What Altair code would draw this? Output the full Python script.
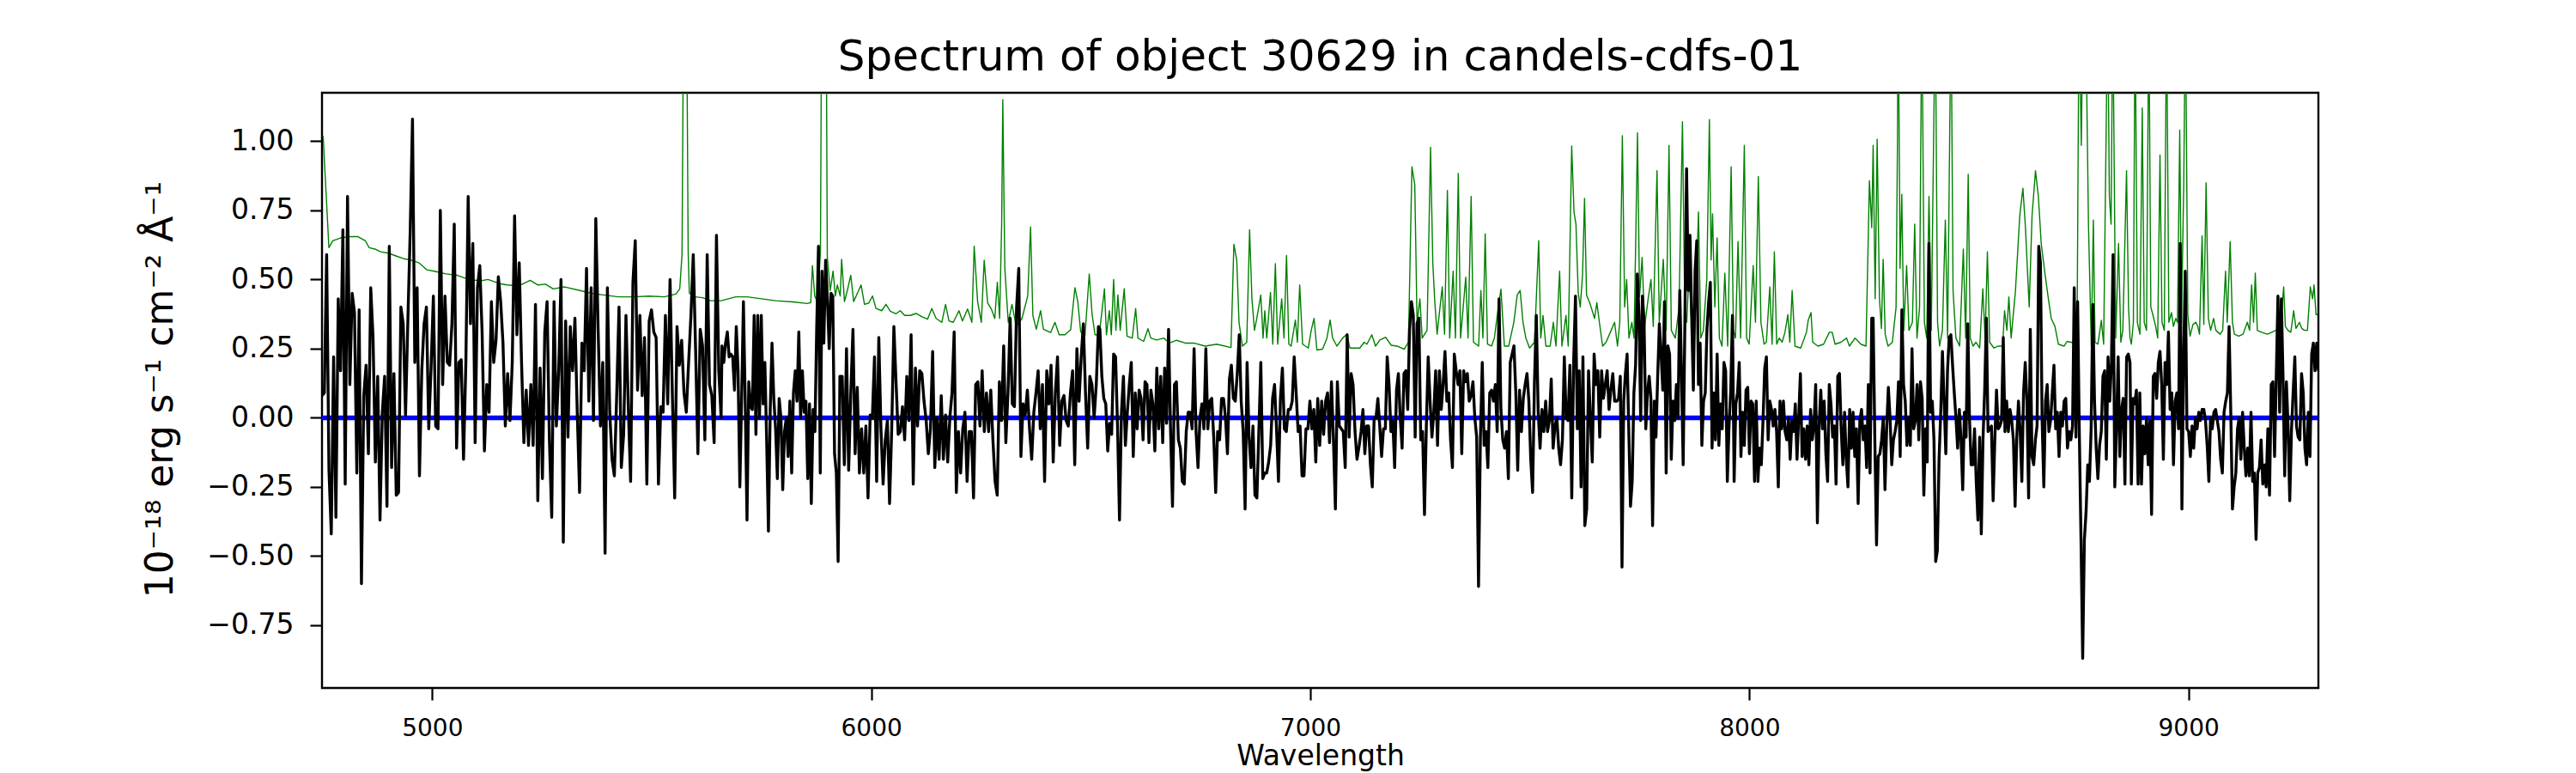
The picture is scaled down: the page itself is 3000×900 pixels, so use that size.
import altair as alt
import numpy as np
import pandas as pd

title_text = "Spectrum of object 30629 in candels-cdfs-01"
x_title = "Wavelength"
y_title = "10⁻¹⁸ erg s⁻¹ cm⁻² Å⁻¹"
x_ticks = [5000, 6000, 7000, 8000, 9000]
y_ticks = [-0.75, -0.5, -0.25, 0.0, 0.25, 0.5, 0.75, 1.0]
x_domain = [4749, 9296]
y_domain = [-0.977, 1.175]

# black flux: wavelength range of each read-off stretch and its values
seg_ranges = [(4749.0, 5658.0), (5660.0, 5928.6), (5933.8, 6517.4), (6520.7, 7106.3),
              (7111.4, 7693.1), (7698.3, 8278.7), (8281.9, 8866.9), (8870.0, 9296.0)]

flux_a = [0.08, 0.09, 0.59, -0.19, -0.42, 0.22, -0.36, 0.43, 0.17, 0.68,
          -0.24, 0.80, 0.12, 0.45, 0.38, -0.20, 0.39, -0.60, 0.08, 0.19,
          -0.13, 0.47, 0.29, -0.16, 0.15, -0.37, 0.02, 0.15, -0.32, 0.62,
          -0.18, 0.16, -0.28, -0.27, 0.40, 0.34, 0.01, 0.35, 0.67, 1.08,
          0.20, 0.47, -0.21, 0.17, 0.34, 0.40, -0.04, 0.18, 0.44, -0.03,
          -0.04, 0.75, 0.12, 0.44, 0.20, 0.19, 0.34, 0.70, -0.11, 0.20,
          0.21, -0.15, 0.20, 0.80, 0.34, 0.63, -0.09, 0.47, 0.55, 0.31,
          -0.12, 0.12, 0.02, 0.42, 0.20, 0.28, 0.51, 0.42, 0.27, -0.03,
          0.16, -0.01, 0.20, 0.73, 0.30, 0.56, 0.20, -0.09, 0.10, -0.10,
          0.12, -0.10, 0.41, -0.30, 0.18, -0.22, 0.31, 0.42, -0.08, -0.36,
          0.42, -0.03, 0.17, 0.50, -0.45, 0.35, -0.07, 0.33, 0.17, 0.36,
          0.02, -0.27, 0.27, 0.17, 0.54, 0.06, 0.47, -0.01, 0.72, 0.32,
          -0.03, 0.20, -0.49, 0.47, 0.02, -0.15, -0.21, 0.08, 0.40, -0.18,
          -0.06, 0.37, 0.04, -0.23, 0.49, 0.64, 0.10, 0.37, 0.08, 0.29,
          -0.24, 0.35, 0.39, 0.31, 0.29, -0.24, 0.04, 0.02, 0.37, 0.05,
          0.50, 0.08, -0.29, 0.33, 0.19, 0.28, 0.09, 0.02, 0.20, 0.37,
          0.59, 0.25, -0.13, 0.32, 0.26, -0.08, 0.59, 0.12, 0.08, -0.09,
          0.66, 0.17, 0.00]
flux_b = [0.26, 0.20, 0.27, 0.31, 0.22, 0.23, 0.22, 0.10, 0.33, 0.17,
          -0.25, 0.07, 0.42, 0.06, -0.37, 0.13, 0.04, 0.03, 0.37, -0.06,
          0.37, 0.00, 0.37, 0.05, 0.20, -0.08, -0.41, 0.03, 0.27, 0.07,
          -0.04, -0.22, 0.07, 0.00, -0.26, -0.05, 0.00, -0.14, 0.06, -0.20,
          0.09, 0.17, 0.06, 0.31, 0.00, 0.17, 0.02, 0.06, -0.22, 0.05,
          -0.31, 0.03, -0.05, 0.32, 0.62, -0.20, 0.53, 0.27, 0.57, 0.43,
          0.25, 0.45, 0.44, -0.13, -0.20, -0.52, 0.15]
flux_c = [0.15, -0.17, 0.25, -0.19, 0.09, 0.32, -0.13, 0.11, -0.20, -0.04,
          -0.20, -0.03, -0.29, 0.01, 0.00, 0.22, -0.23, 0.29, -0.04, -0.24,
          -0.08, -0.01, -0.31, -0.04, 0.33, 0.13, -0.06, -0.05, 0.04, -0.08,
          0.15, -0.01, 0.30, -0.24, 0.18, -0.03, 0.17, 0.16, 0.06, -0.01,
          -0.13, -0.04, 0.24, -0.18, 0.00, -0.15, 0.08, -0.15, 0.01, -0.16,
          0.00, 0.09, 0.31, -0.27, -0.05, -0.20, -0.04, 0.02, -0.23, -0.05,
          -0.05, -0.29, 0.12, 0.13, -0.03, 0.17, -0.05, 0.09, -0.05, 0.10,
          -0.08, -0.23, -0.28, 0.13, -0.01, 0.26, -0.09, 0.09, 0.36, 0.05,
          0.04, 0.40, 0.54, -0.14, 0.05, 0.01, 0.10, -0.04, -0.15, 0.02,
          0.09, 0.17, -0.04, 0.12, -0.23, 0.17, 0.05, 0.19, -0.16, 0.09,
          0.22, -0.10, 0.06, 0.08, -0.01, -0.03, 0.09, 0.17, -0.17, 0.25,
          0.06, 0.22, 0.34, 0.09, -0.11, 0.15, 0.12, 0.00, 0.12, 0.33]
flux_d = [0.32, 0.15, 0.07, 0.05, -0.12, -0.02, -0.06, 0.23, 0.22, -0.03,
          -0.37, 0.02, 0.15, -0.10, 0.02, 0.12, 0.20, -0.14, 0.09, -0.04,
          0.10, 0.07, -0.08, 0.13, 0.12, -0.09, 0.10, 0.05, -0.12, 0.18,
          -0.04, 0.15, -0.09, 0.18, -0.02, 0.32, -0.04, -0.32, 0.12, 0.13,
          -0.08, -0.11, -0.23, -0.24, -0.05, 0.02, 0.02, -0.04, 0.25, -0.05,
          -0.18, 0.00, 0.05, -0.04, 0.25, -0.04, 0.06, 0.07, -0.07, -0.27,
          -0.05, -0.08, 0.07, 0.07, 0.00, -0.13, 0.14, 0.19, 0.07, 0.06,
          0.16, 0.30, 0.06, -0.05, -0.33, 0.20, -0.07, -0.18, -0.03, -0.28,
          -0.29, -0.05, 0.20, -0.22, -0.20, -0.20, -0.16, -0.10, 0.07, 0.12,
          -0.04, -0.23, 0.07, 0.18, -0.04, -0.05, 0.03, 0.03, 0.06, 0.22,
          0.09, -0.05, -0.03, -0.21, -0.21, -0.04, -0.04, 0.06, -0.04, 0.03,
          -0.16, 0.07, -0.10, 0.06, -0.06, 0.06, 0.09, -0.09, 0.13, -0.08,
          -0.33, 0.13, -0.03, -0.04, -0.05, -0.18, 0.30, -0.07, 0.16, 0.12,
          -0.05, -0.15]
flux_e = [-0.10, -0.05, 0.03, -0.13, -0.03, -0.03, -0.17, -0.25, 0.00, 0.00,
          0.07, -0.03, -0.14, -0.04, -0.04, 0.22, 0.12, -0.05, -0.01, -0.18,
          0.10, 0.16, 0.00, -0.11, 0.16, 0.17, 0.03, 0.32, 0.42, 0.37,
          -0.07, 0.34, 0.36, -0.08, -0.05, -0.35, -0.03, 0.22, 0.06, -0.07,
          0.02, 0.17, -0.10, 0.17, 0.03, 0.12, 0.24, 0.06, 0.09, -0.08,
          -0.18, 0.23, 0.17, 0.12, 0.17, -0.13, 0.17, 0.13, 0.16, 0.06,
          0.08, 0.13, 0.00, -0.07, -0.61, -0.07, 0.20, -0.10, -0.05, -0.18,
          0.09, 0.10, 0.06, 0.12, -0.05, 0.43, 0.03, -0.08, -0.11, -0.05,
          -0.22, 0.20, 0.23, 0.26, 0.09, -0.19, 0.10, -0.05, 0.07, 0.12,
          0.16, 0.06, -0.15, -0.27, 0.13, 0.37, 0.02, -0.11, 0.03, -0.05,
          0.06, -0.05, -0.01, 0.14, -0.11, -0.03, 0.00, -0.11, -0.17, -0.08,
          0.22, 0.00, -0.01, 0.19, -0.29, 0.20, 0.44, -0.04, 0.17, -0.25,
          0.22, -0.39, -0.33, 0.17, 0.00, -0.16, 0.23, 0.12, 0.17, -0.07,
          0.17, 0.07, 0.12, 0.17, 0.03, 0.10, 0.16, 0.06]
flux_f = [0.06, 0.07, 0.15, -0.54, 0.06, 0.16, 0.23, -0.05, -0.32, -0.23,
          0.09, 0.19, 0.52, 0.37, -0.01, 0.44, 0.34, -0.04, 0.09, 0.15,
          0.07, -0.39, 0.06, -0.07, 0.15, 0.34, 0.23, 0.10, 0.42, -0.20,
          0.26, 0.23, -0.15, 0.06, -0.01, 0.12, 0.00, 0.46, 0.17, -0.17,
          0.34, 0.90, 0.46, 0.66, 0.37, 0.10, 0.53, 0.64, 0.12, 0.27,
          -0.10, 0.06, 0.09, 0.32, 0.42, 0.49, -0.11, 0.09, -0.08, 0.23,
          -0.10, 0.05, -0.04, 0.20, 0.17, -0.23, -0.03, 0.10, 0.37, -0.23,
          0.05, 0.09, 0.20, -0.14, 0.02, -0.10, 0.10, 0.11, -0.13, 0.06,
          0.05, -0.23, 0.06, -0.23, -0.11, -0.17, -0.01, 0.18, 0.22, -0.08,
          0.06, 0.03, -0.03, 0.03, -0.05, -0.25, 0.06, -0.04, 0.06, -0.05,
          -0.08, 0.00, -0.15, -0.01, -0.05, 0.05, -0.15, 0.00, 0.16, -0.14,
          -0.04, -0.15, -0.03, -0.17, 0.03, -0.08, -0.03, 0.12, -0.38, -0.03,
          0.10, -0.04, 0.06, -0.13, -0.23, 0.12, 0.05, -0.07, -0.03, -0.24,
          0.15, 0.16, -0.04, -0.17, 0.02, -0.15, -0.25, 0.03, -0.11, 0.02,
          -0.14, -0.04, -0.31, -0.01, 0.03, -0.08, -0.03, -0.18, 0.12, -0.20,
          0.36]
flux_g = [0.36, -0.08, -0.46, -0.14, -0.13, -0.08, 0.00, -0.26, -0.04, 0.11,
          0.00, -0.17, -0.08, -0.05, -0.01, 0.13, -0.14, 0.39, 0.12, 0.06,
          -0.10, 0.00, -0.10, 0.25, -0.04, -0.01, 0.12, -0.08, 0.13, 0.07,
          -0.28, -0.04, -0.16, 0.63, 0.02, 0.06, -0.08, -0.52, -0.48, -0.15,
          0.02, 0.24, 0.06, -0.13, 0.17, 0.29, 0.30, 0.19, 0.09, 0.00,
          -0.11, 0.03, -0.08, -0.26, 0.02, -0.07, 0.34, 0.00, -0.17, -0.17,
          -0.04, -0.23, -0.37, -0.07, -0.42, -0.08, 0.10, 0.36, -0.05, -0.04,
          -0.03, -0.30, -0.08, 0.10, -0.04, -0.03, -0.01, 0.29, -0.05, 0.06,
          -0.05, 0.03, -0.01, -0.08, -0.32, -0.07, 0.06, -0.05, -0.23, 0.09,
          0.20, 0.06, -0.29, 0.32, -0.14, -0.17, -0.08, -0.03, 0.62, 0.56,
          -0.01, -0.25, 0.06, 0.12, -0.05, -0.01, 0.09, 0.19, -0.04, 0.02,
          -0.14, 0.02, -0.03, 0.06, 0.07, -0.11, -0.05, -0.08, -0.03, 0.47,
          -0.07, 0.42, -0.05, -0.44, -0.87, -0.44, -0.34, -0.17, -0.23, -0.04,
          0.41, 0.06, -0.11, -0.22, -0.10, -0.05, 0.15, 0.17, -0.15, 0.22,
          0.06, 0.19, 0.59, -0.25, -0.04, 0.22, -0.14, 0.03, 0.07, -0.24,
          0.22, 0.23, 0.20]
flux_h = [-0.24, 0.07, 0.05, 0.10, -0.24, 0.09, -0.24, -0.03, -0.13, 0.00,
          -0.17, -0.01, -0.35, 0.15, 0.16, 0.07, 0.20, 0.24, 0.12, -0.15,
          0.20, 0.12, 0.31, 0.03, 0.09, -0.17, 0.06, 0.09, -0.04, 0.63,
          -0.33, 0.20, 0.53, -0.04, -0.05, -0.14, -0.03, -0.11, 0.00, -0.04,
          0.02, -0.01, 0.03, 0.03, -0.01, -0.10, -0.23, 0.00, -0.04, 0.02,
          0.03, -0.01, -0.05, -0.15, -0.20, 0.02, 0.06, 0.09, 0.33, 0.02,
          -0.33, -0.25, -0.20, -0.04, 0.00, -0.15, 0.02, -0.11, -0.21, -0.11,
          -0.21, 0.02, -0.23, -0.20, -0.44, -0.20, -0.18, -0.08, -0.24, -0.17,
          -0.25, -0.04, -0.28, 0.12, 0.13, -0.14, 0.15, 0.44, 0.02, 0.43,
          0.15, -0.21, 0.13, -0.03, -0.30, -0.05, 0.09, 0.22, -0.03, -0.07,
          -0.08, 0.16, 0.09, -0.11, -0.17, 0.02, -0.14, 0.23, 0.27, 0.17,
          0.27, 0.17]
flux_segments = [flux_a, flux_b, flux_c, flux_d, flux_e, flux_f, flux_g, flux_h]

# green error / sky spectrum
green_wave = [
    4751.6, 4764.7, 4773.5, 4790.9, 4812.8, 4830.2, 4847.7, 4856.4, 4869.5, 4882.6,
    4900.1, 4917.5, 4935.0, 4952.5, 4969.9, 4987.4, 5004.9, 5031.1, 5057.3, 5083.5,
    5109.7, 5127.1, 5153.3, 5170.8, 5197.0, 5223.2, 5240.7, 5258.1, 5275.6, 5301.8,
    5336.7, 5362.9, 5389.1, 5424.1, 5459.0, 5493.9, 5528.8, 5555.0, 5563.8, 5569.0,
    5572.5, 5579.5, 5583.0, 5585.6, 5598.7, 5616.2, 5633.7, 5658.1,
    5691.3, 5717.4, 5750.0, 5782.6, 5821.7, 5854.3, 5862.1, 5866.0, 5871.2, 5877.1,
    5884.3, 5886.9, 5897.3, 5899.9, 5906.5, 5913.0, 5918.2, 5922.8, 5929.3,
    5932.5, 5939.0, 5945.5, 5953.3, 5959.9, 5968.3, 5976.8, 5984.6, 5994.4, 6002.9,
    6010.7, 6023.8, 6033.5, 6043.3, 6056.4, 6066.1, 6075.9, 6089.0, 6102.0, 6115.1,
    6128.1, 6137.9, 6147.7, 6160.7, 6169.2, 6177.0, 6186.8, 6199.8, 6207.7, 6219.4,
    6229.2, 6234.4, 6242.2, 6250.7, 6257.2, 6265.0, 6273.5, 6281.3, 6287.2, 6292.4,
    6297.0, 6299.6, 6304.2, 6312.0, 6320.5, 6330.2, 6343.3, 6356.3, 6362.8, 6368.1,
    6375.9, 6385.7, 6392.2, 6408.5, 6418.3, 6428.1, 6441.1, 6454.2, 6463.9, 6470.4,
    6477.0, 6486.7, 6496.5, 6503.0, 6509.6, 6519.3,
    6531.1, 6535.7, 6542.2, 6546.8, 6552.0, 6557.2, 6561.7, 6567.0, 6576.1, 6582.6,
    6594.4, 6602.2, 6607.4, 6620.4, 6630.2, 6636.7, 6649.8, 6666.1, 6679.1, 6695.4,
    6715.0, 6734.6, 6760.6, 6786.7, 6819.3, 6825.9, 6832.4, 6837.6, 6845.4, 6855.2,
    6861.7, 6867.0, 6872.8, 6878.0, 6887.2, 6892.4, 6896.3, 6900.8, 6909.3, 6914.5,
    6920.4, 6925.6, 6934.8, 6940.0, 6945.8, 6951.1, 6956.3, 6966.0, 6970.6, 6975.8,
    6982.4, 6995.4, 7002.0, 7008.5, 7015.0, 7028.0, 7037.8, 7045.0, 7050.8, 7060.6,
    7073.6, 7083.4, 7090.0, 7106.2,
    7112.7, 7122.5, 7129.0, 7140.1, 7148.5, 7158.3, 7171.4, 7184.4, 7197.5, 7213.8,
    7223.5, 7231.4, 7237.9, 7243.1, 7249.6, 7254.8, 7265.9, 7273.8, 7279.0, 7283.5,
    7288.8, 7294.0, 7300.5, 7305.7, 7312.2, 7317.4, 7325.3, 7330.5, 7337.0, 7342.2,
    7354.0, 7359.2, 7366.3, 7371.6, 7383.3, 7388.5, 7393.1, 7398.3, 7403.5, 7412.7,
    7419.2, 7425.7, 7434.2, 7442.0, 7451.8, 7463.5, 7471.3, 7477.9, 7484.4, 7490.9,
    7499.4, 7510.5, 7520.2, 7524.8, 7530.0, 7536.5, 7546.3, 7553.5, 7559.4, 7567.8,
    7573.1, 7582.2, 7587.4, 7595.3, 7600.5, 7605.0, 7610.2, 7614.8, 7620.0, 7624.6,
    7629.1, 7637.6, 7647.4, 7652.6, 7657.8, 7665.7, 7673.5, 7683.3, 7693.0,
    7699.6, 7704.8, 7710.7, 7715.9, 7720.5, 7725.7, 7732.2, 7737.4, 7745.2, 7749.8,
    7755.7, 7761.5, 7769.4, 7775.9, 7781.1, 7789.6, 7794.8, 7803.9, 7810.4, 7817.0,
    7822.2, 7831.3, 7839.8, 7847.6, 7852.8, 7857.4, 7862.6, 7869.1, 7875.0, 7884.1,
    7889.3, 7895.2, 7903.0, 7908.9, 7912.8, 7916.1, 7921.3, 7926.5, 7931.7, 7937.6,
    7944.1, 7950.6, 7958.5, 7963.7, 7968.3, 7974.1, 7980.0, 7988.5, 7993.7, 7999.6,
    8008.7, 8013.9, 8020.4, 8026.3, 8033.5, 8038.7, 8046.5, 8051.7, 8056.9, 8062.2,
    8068.0, 8074.5, 8081.1, 8087.6, 8092.1, 8097.4, 8103.9, 8116.9, 8130.0, 8133.9,
    8140.4, 8144.3, 8156.1, 8169.1, 8182.1, 8188.7, 8195.2, 8208.2, 8221.3, 8227.8,
    8240.8, 8253.9, 8265.6, 8273.4, 8278.7,
    8281.9, 8286.5, 8291.0, 8296.3, 8300.8, 8304.7, 8309.3, 8315.8, 8325.6, 8334.1,
    8337.3, 8338.6, 8341.3, 8343.2, 8347.1, 8351.7, 8358.2, 8363.4, 8371.3, 8376.5,
    8381.7, 8387.6, 8392.8, 8398.6, 8403.9, 8409.1, 8414.3, 8423.4, 8428.6, 8433.2,
    8439.7, 8446.3, 8451.5, 8459.3, 8463.9, 8470.4, 8478.9, 8487.3, 8492.6, 8498.4,
    8503.0, 8509.5, 8516.0, 8524.5, 8531.7, 8536.9, 8542.1, 8547.3, 8557.1, 8566.9,
    8576.7, 8581.2, 8586.5, 8591.0, 8596.2, 8606.0, 8615.8, 8623.0, 8628.8, 8637.3,
    8643.8, 8651.7, 8658.2, 8664.7, 8672.5, 8681.0, 8687.5, 8696.0, 8703.8, 8716.9,
    8723.4, 8733.2, 8746.2, 8750.8, 8756.0, 8759.9, 8765.8, 8772.3, 8778.8, 8783.4,
    8787.3, 8793.8, 8801.6, 8806.9, 8816.0, 8819.9, 8823.8, 8827.7, 8834.3, 8840.8,
    8846.0, 8850.6, 8859.0, 8863.6, 8866.9,
    8870.0, 8874.6, 8878.5, 8883.7, 8889.5, 8894.8, 8899.3, 8904.5, 8909.8, 8914.3,
    8918.9, 8925.4, 8930.0, 8935.2, 8939.8, 8945.0, 8950.2, 8955.4, 8961.3, 8965.8,
    8971.1, 8975.0, 8980.2, 8984.1, 8989.3, 8993.2, 8998.5, 9003.7, 9010.2, 9016.7,
    9021.3, 9025.2, 9031.1, 9035.0, 9040.2, 9045.4, 9050.6, 9057.2, 9062.4, 9072.1,
    9078.0, 9084.5, 9088.4, 9095.0, 9100.2, 9104.7, 9114.5, 9124.3, 9134.1, 9139.3,
    9143.9, 9148.4, 9152.3, 9156.9, 9166.7, 9179.7, 9189.5, 9199.3, 9209.1, 9216.9,
    9220.8, 9226.7, 9233.2, 9239.7, 9244.9, 9252.8, 9258.0, 9264.5, 9271.0, 9277.6,
    9282.8, 9286.0, 9290.6, 9294.5]
green_flux = [
    1.02, 0.615, 0.64, 0.65, 0.655, 0.655, 0.64, 0.615, 0.61, 0.60,
    0.595, 0.585, 0.575, 0.57, 0.56, 0.535, 0.53, 0.52, 0.515, 0.50,
    0.495, 0.50, 0.485, 0.48, 0.477, 0.497, 0.48, 0.483, 0.466, 0.473,
    0.46, 0.45, 0.444, 0.437, 0.437, 0.44, 0.437, 0.447, 0.466, 0.59,
    1.5, 1.5, 0.6, 0.45, 0.437, 0.434, 0.423, 0.423,
    0.437, 0.437, 0.43, 0.423, 0.419, 0.413, 0.416, 0.55, 0.44, 0.42,
    0.60, 1.5, 1.5, 0.58, 0.46, 0.53, 0.44, 0.48, 0.44,
    0.573, 0.42, 0.46, 0.515, 0.42, 0.45, 0.48, 0.41, 0.415, 0.44,
    0.395, 0.387, 0.41, 0.385, 0.376, 0.387, 0.37, 0.37, 0.377, 0.366,
    0.356, 0.395, 0.359, 0.345, 0.41, 0.35, 0.345, 0.387, 0.35, 0.393,
    0.345, 0.62, 0.42, 0.345, 0.57, 0.415, 0.393, 0.359, 0.49, 0.359,
    0.70, 1.15, 0.54, 0.345, 0.41, 0.33, 0.359, 0.44, 0.69, 0.37,
    0.32, 0.387, 0.32, 0.308, 0.345, 0.30, 0.30, 0.319, 0.47, 0.42,
    0.31, 0.296, 0.52, 0.373, 0.30, 0.30,
    0.466, 0.30, 0.387, 0.30, 0.50, 0.316, 0.444, 0.316, 0.466, 0.295,
    0.288, 0.395, 0.288, 0.276, 0.322, 0.288, 0.281, 0.288, 0.27, 0.28,
    0.27, 0.27, 0.259, 0.266, 0.254, 0.627, 0.57, 0.345, 0.259, 0.273,
    0.68, 0.43, 0.316, 0.359, 0.444, 0.288, 0.387, 0.288, 0.453, 0.266,
    0.557, 0.266, 0.43, 0.288, 0.587, 0.266, 0.259, 0.353, 0.273, 0.48,
    0.266, 0.252, 0.316, 0.359, 0.245, 0.248, 0.288, 0.353, 0.288, 0.259,
    0.288, 0.302, 0.252, 0.252,
    0.252, 0.273, 0.266, 0.30, 0.259, 0.281, 0.291, 0.262, 0.259, 0.248,
    0.273, 0.907, 0.843, 0.345, 0.43, 0.288, 0.316, 0.978, 0.558, 0.42,
    0.302, 0.38, 0.473, 0.302, 0.822, 0.288, 0.53, 0.288, 0.883, 0.288,
    0.508, 0.288, 0.80, 0.273, 0.259, 0.46, 0.288, 0.665, 0.266, 0.259,
    0.288, 0.37, 0.465, 0.259, 0.259, 0.345, 0.444, 0.46, 0.345, 0.288,
    0.252, 0.273, 0.64, 0.288, 0.37, 0.259, 0.259, 0.345, 0.259, 0.53,
    0.259, 0.37, 0.259, 0.983, 0.744, 0.70, 0.451, 0.40, 0.516, 0.793,
    0.444, 0.41, 0.359, 0.416, 0.352, 0.259, 0.273, 0.309, 0.345,
    0.259, 0.345, 1.02, 0.40, 0.50, 0.288, 0.345, 0.288, 1.03, 0.437,
    0.58, 0.33, 0.43, 0.50, 0.33, 0.893, 0.345, 0.573, 0.316, 0.985,
    0.316, 0.288, 0.40, 1.07, 0.40, 0.345, 0.53, 0.316, 0.288, 0.744,
    0.288, 0.316, 0.50, 1.078, 0.57, 0.737, 0.40, 0.65, 0.288, 0.259,
    0.523, 0.259, 0.907, 0.316, 0.288, 0.637, 0.288, 0.985, 0.288, 0.266,
    0.55, 0.345, 0.872, 0.345, 0.266, 0.273, 0.473, 0.266, 0.60, 0.266,
    0.288, 0.273, 0.309, 0.373, 0.273, 0.46, 0.259, 0.252, 0.309, 0.352,
    0.38, 0.273, 0.259, 0.266, 0.309, 0.309, 0.266, 0.273, 0.288, 0.259,
    0.288, 0.266, 0.259, 0.857, 0.687,
    0.985, 0.43, 1.007, 0.43, 0.323, 0.573, 0.302, 0.259, 0.273, 0.40,
    1.0, 1.5, 1.0, 0.54, 0.808, 0.316, 0.55, 0.316, 0.345, 0.70,
    0.288, 0.40, 1.5, 0.345, 0.288, 0.80, 0.316, 1.5, 0.345, 0.259,
    0.316, 0.715, 0.288, 1.5, 0.459, 0.288, 0.259, 0.61, 0.288, 0.88,
    0.288, 0.259, 0.273, 0.252, 0.466, 0.288, 0.60, 0.273, 0.252, 0.259,
    0.259, 0.387, 0.316, 0.437, 0.288, 0.459, 0.73, 0.83, 0.687, 0.40,
    0.73, 0.893, 0.80, 0.63, 0.53, 0.43, 0.359, 0.33, 0.266, 0.259,
    0.276, 0.273, 0.259, 1.5, 0.985, 1.5, 1.5, 0.70, 0.259, 0.715,
    0.273, 0.266, 0.352, 0.266, 1.5, 0.80, 0.70, 1.5, 0.288, 0.63,
    0.273, 0.316, 0.893, 0.40, 0.288,
    0.266, 0.345, 1.5, 0.345, 0.302, 1.12, 0.345, 0.316, 1.5, 0.40,
    0.373, 0.33, 0.288, 0.95, 0.345, 0.316, 1.5, 0.345, 0.38, 0.33,
    0.359, 0.345, 1.04, 0.345, 0.843, 1.5, 0.373, 0.295, 0.337, 0.345,
    0.33, 0.302, 0.658, 0.337, 0.85, 0.359, 0.316, 0.359, 0.316, 0.302,
    0.316, 0.53, 0.345, 0.637, 0.345, 0.302, 0.295, 0.302, 0.345, 0.316,
    0.48, 0.345, 0.523, 0.316, 0.309, 0.302, 0.309, 0.316, 0.316, 0.473,
    0.33, 0.316, 0.309, 0.387, 0.323, 0.345, 0.323, 0.316, 0.316, 0.473,
    0.43, 0.48, 0.373, 0.373]

frames = []
for (w0, w1), fl in zip(seg_ranges, flux_segments):
    frames.append(pd.DataFrame({"wave": np.linspace(w0, w1, len(fl)), "flux": fl}))
flux_df = pd.concat(frames, ignore_index=True)
green_df = pd.DataFrame({"wave": green_wave, "flux": green_flux})
zero_df = pd.DataFrame({"wave": x_domain, "flux": [0.0, 0.0]})
title_df = pd.DataFrame({"label": [title_text]})

font = "DejaVu Sans"
PLOT_W, PLOT_H = 2325, 693

x_enc = alt.X("wave:Q",
              scale=alt.Scale(domain=x_domain, nice=False, zero=False),
              axis=alt.Axis(values=x_ticks, format="d", title=x_title,
                            labelFontSize=28, labelPadding=19, labelFlush=False,
                            labelOverlap=False, titleFontSize=33, titleY=89,
                            titleBaseline="alphabetic"))
y_enc = alt.Y("flux:Q",
              scale=alt.Scale(domain=y_domain, nice=False, zero=False),
              axis=alt.Axis(values=y_ticks, format=".2f", title=y_title,
                            labelFontSize=33, labelPadding=19, labelOverlap=False,
                            labelFlush=False, titleFontSize=44, titleX=-175, titleY=345,
                            titleAngle=270, titleAlign="center",
                            titleBaseline="alphabetic"))

green = alt.Chart(green_df).mark_line(color="#008000", strokeWidth=1.4, clip=True,
                                      strokeJoin="round").encode(x=x_enc, y=y_enc)
zero = alt.Chart(zero_df).mark_line(color="#0000ff", strokeWidth=5.5, clip=True).encode(
    x=x_enc, y=y_enc)
black = alt.Chart(flux_df).mark_line(color="#000000", strokeWidth=3.4, clip=True,
                                     strokeJoin="round").encode(x=x_enc, y=y_enc)
title = alt.Chart(title_df).mark_text(
    font=font, fontSize=50, color="black", align="center", baseline="alphabetic"
).encode(x=alt.value(PLOT_W / 2), y=alt.value(-26), text="label:N")

chart = alt.layer(green, zero, black, title).properties(
    width=PLOT_W, height=PLOT_H,
    autosize=alt.AutoSizeParams(type="none"),
    padding={"left": 367, "top": 100, "right": 292, "bottom": 99},
).configure(font=font).configure_view(
    stroke="black", strokeWidth=2.4
).configure_axis(
    domain=False, grid=False, ticks=True, tickColor="black", tickWidth=2.2, tickSize=14,
    labelColor="black", titleColor="black", labelFont=font, titleFont=font,
    titleFontWeight="normal"
)

chart.save("out.html", embed_options={"renderer": "svg", "actions": False})
